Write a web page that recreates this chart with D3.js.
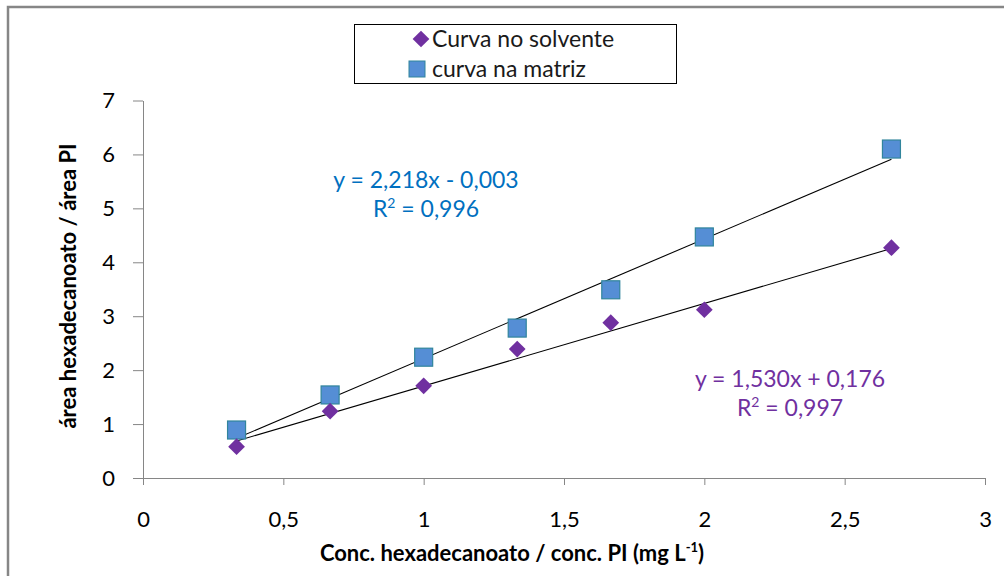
<!DOCTYPE html>
<html>
<head>
<meta charset="utf-8">
<script src="https://cdn.jsdelivr.net/npm/d3@7"></script>
<style>
  body { margin: 0; background: #fff; }
  svg { display: block; font-family: Lato, "Open Sans", sans-serif; }
</style>
</head>
<body>
<div id="chart"></div>
<script>
// data
const concValues = [1/3, 2/3, 1, 4/3, 5/3, 2, 8/3];
const solventValues = [0.58, 1.24, 1.71, 2.39, 2.88, 3.12, 4.27];
const matrixValues = [0.89, 1.54, 2.24, 2.78, 3.49, 4.47, 6.10];
const solventFit = {slope: 1.530, intercept: 0.176};
const matrixFit = {slope: 2.218, intercept: -0.003};
const xTicks = [0, 0.5, 1, 1.5, 2, 2.5, 3];
const yTicks = [0, 1, 2, 3, 4, 5, 6, 7];

const W = 1004, H = 576;
const svg = d3.select("#chart").append("svg")
    .attr("width", W)
    .attr("height", H);

// outer frame (only top + left visible)
svg.append("path")
    .attr("d", `M8,${H} L8,7 L${W},7`)
    .attr("fill", "none")
    .attr("stroke", "#868686")
    .attr("stroke-width", 2.5);

const x = d3.scaleLinear().domain([0, 3]).range([143, 985]);
const y = d3.scaleLinear().domain([0, 7]).range([478, 100.5]);

const fmt = d => String(d).replace(".", ",");

// x axis
const xAxis = svg.append("g")
    .attr("transform", `translate(0,${y(0)})`)
    .call(d3.axisBottom(x).tickValues(xTicks).tickFormat(fmt).tickSize(7).tickSizeOuter(7).tickPadding(26));
xAxis.select(".domain").attr("stroke", "#868686");
xAxis.selectAll(".tick line").attr("stroke", "#868686");
xAxis.selectAll("text").attr("font-size", 22).attr("fill", "#000")
    .attr("font-family", "Lato, sans-serif");

// y axis
const yAxis = svg.append("g")
    .attr("transform", `translate(${x(0)},0)`)
    .call(d3.axisLeft(y).tickValues(yTicks).tickFormat(d3.format("d")).tickSize(10).tickSizeOuter(0).tickPadding(18));
yAxis.select(".domain").attr("stroke", "#868686");
yAxis.selectAll(".tick line").attr("stroke", "#868686");
yAxis.selectAll("text").attr("font-size", 22).attr("fill", "#000")
    .attr("font-family", "Lato, sans-serif");

// axis titles
const xTitle = svg.append("text")
    .attr("x", 512).attr("y", 561)
    .attr("text-anchor", "middle")
    .attr("font-size", 22).attr("font-weight", "bold")
    .text("Conc. hexadecanoato / conc. PI (mg L");
xTitle.append("tspan").attr("font-size", 13).attr("dy", -9).text("-1");
xTitle.append("tspan").attr("dy", 9).text(")");

svg.append("text")
    .attr("transform", `translate(76,286) rotate(-90)`)
    .attr("text-anchor", "middle")
    .attr("font-size", 22).attr("font-weight", "bold")
    .text("área hexadecanoato / área PI");

// trendlines
const fitLine = fit => d3.line()
    .x(d => x(d))
    .y(d => y(fit.slope * d + fit.intercept));
const xExtent = d3.extent(concValues);
[matrixFit, solventFit].forEach(fit => {
  svg.append("path")
      .datum(xExtent)
      .attr("d", fitLine(fit))
      .attr("fill", "none")
      .attr("stroke", "#000")
      .attr("stroke-width", 1.1);
});

// matrix squares
const sq = 18;
svg.append("g").selectAll("rect")
  .data(concValues.map((c, i) => [c, matrixValues[i]]))
  .join("rect")
    .attr("x", d => x(d[0]) - sq / 2)
    .attr("y", d => y(d[1]) - sq / 2)
    .attr("width", sq).attr("height", sq)
    .attr("fill", "#558ED5")
    .attr("stroke", "#31859C")
    .attr("stroke-width", 1.2);

// solvent diamonds
const diamond = d3.symbol().type(d3.symbolSquare).size(140);
svg.append("g").selectAll("path")
  .data(concValues.map((c, i) => [c, solventValues[i]]))
  .join("path")
    .attr("d", diamond)
    .attr("transform", d => `translate(${x(d[0])},${y(d[1])}) rotate(45)`)
    .attr("fill", "#7030A0");

// equations
const eq = (cx, cy, color, line1, r2) => {
  svg.append("text")
      .attr("x", cx).attr("y", cy)
      .attr("text-anchor", "middle")
      .attr("font-size", 23).attr("fill", color)
      .text(line1);
  const t = svg.append("text")
      .attr("x", cx).attr("y", cy + 29)
      .attr("text-anchor", "middle")
      .attr("font-size", 23).attr("fill", color);
  t.append("tspan").text("R");
  t.append("tspan").attr("font-size", 14).attr("dy", -9).text("2");
  t.append("tspan").attr("dy", 9).text(" = " + r2);
};
eq(426, 188, "#0070C0", "y = 2,218x - 0,003", "0,996");
eq(790, 387, "#7030A0", "y = 1,530x + 0,176", "0,997");

// legend
const legend = svg.append("g");
legend.append("rect")
    .attr("x", 354.5).attr("y", 24.5)
    .attr("width", 322).attr("height", 59)
    .attr("fill", "#fff").attr("stroke", "#000").attr("stroke-width", 1);
legend.append("path")
    .attr("d", diamond)
    .attr("transform", "translate(421,39) rotate(45)")
    .attr("fill", "#7030A0");
legend.append("rect")
    .attr("x", 409).attr("y", 61).attr("width", 16).attr("height", 16)
    .attr("fill", "#558ED5").attr("stroke", "#31859C").attr("stroke-width", 1);
legend.append("text")
    .attr("x", 432).attr("y", 47)
    .attr("font-size", 23).attr("fill", "#1a1a1a")
    .text("Curva no solvente");
legend.append("text")
    .attr("x", 432).attr("y", 77)
    .attr("font-size", 23).attr("fill", "#1a1a1a")
    .text("curva na matriz");
</script>
</body>
</html>
